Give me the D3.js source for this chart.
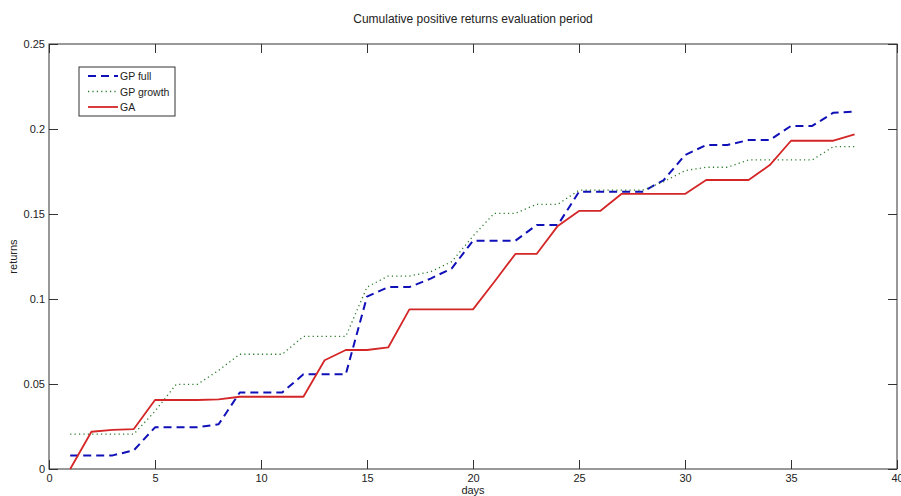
<!DOCTYPE html>
<html>
<head>
<meta charset="utf-8">
<script src="https://cdn.jsdelivr.net/npm/d3@7"></script>
<style>
  body { margin: 0; background: #fff; }
  text { font-family: "Liberation Sans", Arial, sans-serif; fill: #222; }
</style>
</head>
<body>
<div id="chart"></div>
<script>
// day index 1..38
const days = d3.range(1, 39);

const gpFull = [0.008, 0.008, 0.008, 0.011, 0.0245, 0.0245, 0.0245, 0.0263, 0.045, 0.045,
  0.045, 0.0557, 0.0557, 0.0557, 0.1014, 0.107, 0.107, 0.112, 0.118, 0.1343,
  0.1343, 0.1343, 0.1435, 0.1435, 0.1631, 0.1631, 0.1631, 0.1631, 0.170, 0.1847,
  0.1906, 0.1906, 0.1935, 0.1935, 0.2018, 0.2018, 0.2096, 0.2102];

const gpGrowth = [0.0205, 0.0205, 0.0205, 0.0205, 0.034, 0.0498, 0.0498, 0.058, 0.0675, 0.0675,
  0.0675, 0.078, 0.078, 0.078, 0.107, 0.1135, 0.1135, 0.116, 0.122, 0.137,
  0.1504, 0.1504, 0.1557, 0.1557, 0.164, 0.164, 0.164, 0.164, 0.169, 0.1755,
  0.1775, 0.1775, 0.1818, 0.1818, 0.1818, 0.1818, 0.1896, 0.1896];

const ga = [0, 0.0219, 0.023, 0.0235, 0.0406, 0.0406, 0.0406, 0.041, 0.0425, 0.0425,
  0.0425, 0.0425, 0.064, 0.070, 0.070, 0.0715, 0.0939, 0.0939, 0.0939, 0.0939,
  0.110, 0.1265, 0.1265, 0.143, 0.1518, 0.1518, 0.1618, 0.1618, 0.1618, 0.1618,
  0.170, 0.170, 0.170, 0.1788, 0.1931, 0.1931, 0.1931, 0.1969];

const xTicks = [0, 5, 10, 15, 20, 25, 30, 35, 40];
const yTicks = [0, 0.05, 0.1, 0.15, 0.2, 0.25];

const series = [
  { name: "GP full", values: gpFull, color: "#1010b8", dash: "8,5", width: 2 },
  { name: "GP growth", values: gpGrowth, color: "#2a7a2a", dash: "1.2,3.2", width: 1.3 },
  { name: "GA", values: ga, color: "#d42626", dash: null, width: 1.8 }
];

const W = 901, H = 496;
const pLeft = 49, pRight = 897, pTop = 44, pBottom = 469;

const svg = d3.select("#chart").append("svg")
  .attr("width", W).attr("height", H);

const x = d3.scaleLinear().domain([0, 40]).range([pLeft, pRight]);
const y = d3.scaleLinear().domain([0, 0.25]).range([pBottom, pTop]);

// frame box
svg.append("rect")
  .attr("x", pLeft).attr("y", pTop)
  .attr("width", pRight - pLeft).attr("height", pBottom - pTop)
  .attr("fill", "none").attr("stroke", "#333").attr("stroke-width", 1);

// ticks inside, matlab style, on all four sides
const tickLen = 9;
const xAxisB = d3.axisBottom(x).tickValues(xTicks).tickSizeInner(-tickLen).tickSizeOuter(0).tickPadding(5);
const xAxisT = d3.axisTop(x).tickValues(xTicks).tickSizeInner(-tickLen).tickSizeOuter(0).tickFormat("");
const yAxisL = d3.axisLeft(y).tickValues(yTicks).tickSizeInner(-tickLen).tickSizeOuter(0).tickPadding(4).tickFormat(d => d === 0 ? "0" : String(+d.toFixed(2)));
const yAxisR = d3.axisRight(y).tickValues(yTicks).tickSizeInner(-tickLen).tickSizeOuter(0).tickFormat("");

function styleAxis(g) {
  g.select(".domain").remove();
  g.selectAll(".tick line").attr("stroke", "#333");
  g.selectAll(".tick text")
    .style("font-family", "'Liberation Sans', Arial, sans-serif")
    .style("font-size", "11px").attr("fill", "#222");
}

svg.append("g").attr("transform", `translate(0,${pBottom})`).call(xAxisB).call(styleAxis);
svg.append("g").attr("transform", `translate(0,${pTop})`).call(xAxisT).call(styleAxis);
svg.append("g").attr("transform", `translate(${pLeft},0)`).call(yAxisL).call(styleAxis);
svg.append("g").attr("transform", `translate(${pRight},0)`).call(yAxisR).call(styleAxis);

// lines
const line = d3.line()
  .x((d, i) => x(days[i]))
  .y(d => y(d));

svg.selectAll("path.series")
  .data(series)
  .enter()
  .append("path")
  .attr("class", "series")
  .attr("d", d => line(d.values))
  .attr("fill", "none")
  .attr("stroke", d => d.color)
  .attr("stroke-width", d => d.width)
  .attr("stroke-dasharray", d => d.dash)
  .attr("stroke-linejoin", "round");

// title + axis labels
svg.append("text")
  .attr("x", (pLeft + pRight) / 2).attr("y", 23)
  .attr("text-anchor", "middle")
  .style("font-size", "12px")
  .text("Cumulative positive returns evaluation period");

svg.append("text")
  .attr("x", (pLeft + pRight) / 2).attr("y", 494)
  .attr("text-anchor", "middle")
  .style("font-size", "11px")
  .text("days");

svg.append("text")
  .attr("transform", `translate(17,${(pTop + pBottom) / 2}) rotate(-90)`)
  .attr("text-anchor", "middle")
  .style("font-size", "11px")
  .text("returns");

// legend
const legend = svg.append("g").attr("transform", "translate(79,67)");
legend.append("rect")
  .attr("width", 96).attr("height", 49)
  .attr("fill", "#fff").attr("stroke", "#333").attr("stroke-width", 1);

series.forEach((s, i) => {
  const row = legend.append("g").attr("transform", `translate(0,${9 + i * 15.5})`);
  row.append("line")
    .attr("x1", 9).attr("x2", 39).attr("y1", 0).attr("y2", 0)
    .attr("stroke", s.color)
    .attr("stroke-width", s.width)
    .attr("stroke-dasharray", s.dash);
  row.append("text")
    .attr("x", 41).attr("y", 4)
    .style("font-size", "10.5px")
    .text(s.name);
});
</script>
</body>
</html>
